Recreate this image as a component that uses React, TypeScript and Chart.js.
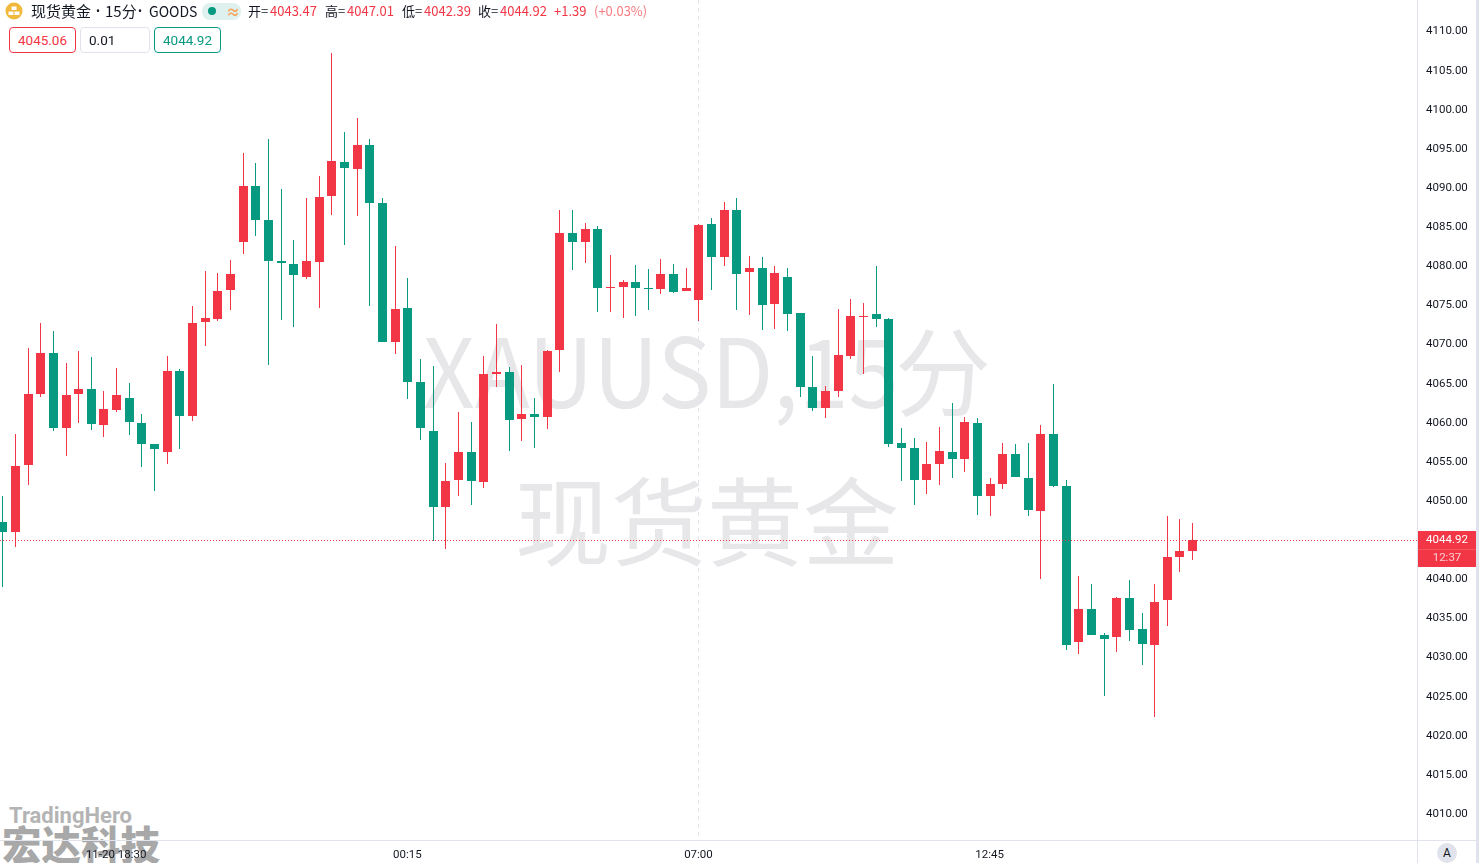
import React, { useEffect, useRef } from "react";
import { Chart, registerables } from "chart.js";

Chart.register(...registerables);

const RED = "#F23645";
const GREEN = "#089981";
const LINE = "#E0E3EB";
const INK = "#131722";
const CJK = '"Noto Sans CJK SC", Roboto, sans-serif';

const openPrices = [
  4047.19, 4045.91, 4054.47, 4063.54, 4068.78, 4059.20, 4063.54, 4064.18, 4059.58, 4061.50,
  4063.03, 4059.84, 4057.15, 4056.13, 4066.48, 4060.73, 4072.74, 4073.13, 4076.83, 4082.97,
  4090.12, 4085.78, 4080.54, 4080.15, 4078.50, 4080.42, 4088.85, 4093.20, 4092.30, 4095.37,
  4087.96, 4070.19, 4074.54, 4065.08, 4058.82, 4049.11, 4052.56, 4056.13, 4052.30, 4066.10,
  4066.36, 4060.35, 4060.99, 4060.61, 4069.17, 4084.12, 4082.97, 4084.64, 4077.10, 4077.22,
  4077.86, 4077.10, 4076.97, 4078.88, 4076.71, 4075.56, 4085.27, 4081.06, 4087.06, 4079.14,
  4079.65, 4075.05, 4078.50, 4073.90, 4064.44, 4061.76, 4063.93, 4068.41, 4073.39, 4073.77,
  4073.13, 4057.29, 4056.65, 4052.56, 4054.60, 4056.14, 4055.24, 4059.84, 4050.52, 4052.05,
  4055.88, 4052.82, 4048.60, 4058.44, 4051.79, 4031.86, 4036.07, 4032.75, 4032.50, 4037.48,
  4033.52, 4031.47, 4037.22, 4042.72, 4043.47,
];
const highPrices = [
  4050.51, 4058.43, 4069.42, 4072.61, 4071.59, 4067.50, 4069.04, 4068.27, 4063.92, 4066.86,
  4064.95, 4060.98, 4057.15, 4068.40, 4066.74, 4074.79, 4079.26, 4079.00, 4080.67, 4094.34,
  4093.06, 4096.13, 4089.74, 4083.22, 4088.60, 4091.41, 4107.13, 4097.03, 4098.82, 4096.14,
  4088.60, 4082.46, 4078.37, 4068.02, 4067.13, 4054.73, 4061.25, 4059.97, 4068.40, 4072.49,
  4067.00, 4067.25, 4063.04, 4069.17, 4087.06, 4087.06, 4085.40, 4085.02, 4081.31, 4078.12,
  4080.03, 4079.52, 4080.80, 4080.16, 4079.65, 4085.27, 4086.04, 4088.09, 4088.60, 4081.19,
  4081.06, 4079.91, 4079.65, 4073.90, 4068.41, 4064.57, 4074.41, 4075.69, 4075.18, 4079.91,
  4073.26, 4059.21, 4057.93, 4057.42, 4059.33, 4062.40, 4060.61, 4060.48, 4052.82, 4057.29,
  4057.16, 4057.29, 4059.59, 4064.83, 4052.56, 4040.29, 4039.27, 4033.01, 4037.61, 4039.78,
  4035.56, 4039.27, 4047.96, 4047.58, 4047.01,
];
const lowPrices = [
  4038.88, 4043.99, 4051.91, 4063.16, 4058.81, 4055.62, 4059.84, 4058.94, 4058.05, 4061.24,
  4058.30, 4054.21, 4051.14, 4054.59, 4056.51, 4060.09, 4069.68, 4072.87, 4074.28, 4081.43,
  4083.73, 4067.25, 4073.00, 4072.10, 4078.24, 4074.54, 4086.42, 4082.59, 4086.30, 4074.79,
  4070.19, 4068.66, 4062.91, 4057.67, 4044.76, 4043.74, 4050.51, 4049.36, 4051.53, 4064.44,
  4056.26, 4057.54, 4056.65, 4059.07, 4066.36, 4079.39, 4080.29, 4074.03, 4074.03, 4073.26,
  4073.52, 4074.28, 4076.33, 4076.46, 4076.71, 4072.88, 4076.84, 4079.91, 4074.28, 4073.64,
  4071.73, 4071.86, 4071.60, 4063.17, 4061.38, 4060.48, 4063.17, 4068.02, 4066.10, 4072.11,
  4056.78, 4052.43, 4049.36, 4050.77, 4051.92, 4052.82, 4053.58, 4048.09, 4047.96, 4051.41,
  4052.94, 4047.96, 4039.91, 4051.67, 4030.83, 4030.32, 4032.75, 4024.96, 4030.58, 4031.98,
  4028.92, 4022.27, 4033.90, 4040.80, 4042.39,
];
const closePrices = [
  4045.91, 4054.34, 4063.54, 4068.78, 4059.20, 4063.41, 4064.18, 4059.71, 4061.62, 4063.41,
  4059.96, 4057.15, 4056.51, 4066.48, 4060.73, 4072.61, 4073.25, 4076.70, 4078.88, 4090.12,
  4085.78, 4080.54, 4080.28, 4078.75, 4080.54, 4088.72, 4093.32, 4092.43, 4095.37, 4087.96,
  4070.19, 4074.41, 4065.08, 4059.20, 4049.11, 4052.43, 4056.13, 4052.43, 4066.10, 4066.36,
  4060.22, 4060.99, 4060.61, 4069.04, 4084.12, 4082.97, 4084.63, 4077.10, 4077.22, 4077.86,
  4077.10, 4076.97, 4078.88, 4076.58, 4077.10, 4085.15, 4081.06, 4087.06, 4078.88, 4079.65,
  4074.92, 4079.01, 4073.77, 4064.44, 4061.76, 4063.93, 4068.53, 4073.52, 4073.52, 4073.13,
  4057.16, 4056.65, 4052.56, 4054.60, 4056.27, 4055.24, 4059.97, 4050.52, 4052.05, 4055.88,
  4052.94, 4048.73, 4058.44, 4051.79, 4031.47, 4036.07, 4032.75, 4032.24, 4037.48, 4033.39,
  4031.60, 4036.97, 4042.72, 4043.49, 4044.92,
];

const priceTicks = [
  4010, 4015, 4020, 4025, 4030, 4035, 4040, 4050, 4055, 4060, 4065, 4070, 4075, 4080, 4085,
  4090, 4095, 4100, 4105, 4110,
];
const timeTickIndex = [9, 32, 55, 78];
const timeTickLabels = ["11-20 18:30", "00:15", "07:00", "12:45"];
const lastPrice = 4044.92;
const countdown = "12:37";
const crosshairIndex = 55;

const isUp = (i: number) => closePrices[i] >= openPrices[i];
const candleColors = openPrices.map((_, i) => (isUp(i) ? RED : GREEN));

const pixelSnap = {
  id: "pixelSnap",
  afterDatasetsUpdate(chart: any) {
    chart.data.datasets.forEach((_: any, d: number) => {
      chart.getDatasetMeta(d).data.forEach((el: any) => {
        el.x = Math.round(el.x) + 0.5;
        const top = Math.round(Math.min(el.y, el.base));
        const bottom = Math.round(Math.max(el.y, el.base));
        el.y = top;
        el.base = Math.max(bottom, top + 1);
      });
    });
  },
};

const chrome = {
  id: "chrome",
  beforeDatasetsDraw(chart: any) {
    const { ctx, scales } = chart;
    const x = Math.round(scales.x.getPixelForValue(crosshairIndex)) + 0.5;
    ctx.save();
    ctx.strokeStyle = "#E4E5EE";
    ctx.lineWidth = 1;
    ctx.setLineDash([4, 4]);
    ctx.beginPath();
    ctx.moveTo(x, 0);
    ctx.lineTo(x, chart.chartArea.bottom);
    ctx.stroke();
    ctx.restore();
  },
  afterDatasetsDraw(chart: any) {
    const { ctx, scales, chartArea, width, height } = chart;
    const row = Math.round(scales.y.getPixelForValue(lastPrice));
    const y = row + 0.5;
    ctx.save();
    ctx.strokeStyle = RED;
    ctx.lineWidth = 1;
    ctx.setLineDash([1, 2]);
    ctx.beginPath();
    ctx.moveTo(0, y);
    ctx.lineTo(chartArea.right, y);
    ctx.stroke();
    ctx.setLineDash([]);
    ctx.strokeStyle = LINE;
    ctx.beginPath();
    ctx.moveTo(chartArea.right + 0.5, 0);
    ctx.lineTo(chartArea.right + 0.5, height);
    ctx.moveTo(0, chartArea.bottom + 0.5);
    ctx.lineTo(width - 3, chartArea.bottom + 0.5);
    ctx.stroke();
    ctx.fillStyle = LINE;
    ctx.fillRect(width - 3, 0, 3, height);
    const left = chartArea.right + 1;
    const tagW = width - 3 - left;
    ctx.fillStyle = RED;
    ctx.fillRect(left, row - 9, tagW, 36);
    ctx.fillStyle = "rgba(255,255,255,0.15)";
    ctx.fillRect(left, row + 9, tagW, 1);
    ctx.textAlign = "center";
    ctx.textBaseline = "middle";
    ctx.font = "11.5px Roboto";
    ctx.fillStyle = "#FFFFFF";
    ctx.fillText(lastPrice.toFixed(2), left + tagW / 2, row);
    ctx.fillStyle = "rgba(255,255,255,0.75)";
    ctx.fillText(countdown, left + tagW / 2, row + 18);
    ctx.restore();
  },
};

const abs = (style: React.CSSProperties): React.CSSProperties => ({
  position: "absolute",
  whiteSpace: "nowrap",
  ...style,
});

function HeaderText({ x, color, text, size, font }: { x: number; color: string; text: string; size?: number; font?: string }) {
  return (
    <span style={abs({ left: x, top: 2, fontSize: size ?? 13, lineHeight: "18px", color, fontFamily: font ?? CJK })}>{text}</span>
  );
}

function Box({ x, w, color, border, text, align }: any) {
  return (
    <div
      style={abs({
        left: x,
        top: 27,
        width: w,
        height: 26,
        boxSizing: "border-box",
        border: `1px solid ${border}`,
        borderRadius: 4,
        color,
        fontSize: 13.5,
        lineHeight: "25px",
        textAlign: align,
        paddingLeft: align === "left" ? 8 : 0,
        fontFamily: "Roboto, sans-serif",
        background: "#fff",
      })}
    >
      {text}
    </div>
  );
}

export default function App() {
  const ref = useRef<HTMLCanvasElement | null>(null);

  useEffect(() => {
    const chart = new Chart(ref.current as HTMLCanvasElement, {
      type: "bar",
      data: {
        datasets: [
          {
            label: "wick",
            data: openPrices.map((_, i) => ({ x: i, y: [lowPrices[i], highPrices[i]] })) as any,
            backgroundColor: candleColors,
            barThickness: 1,
            borderWidth: 0,
            inflateAmount: 0,
            grouped: false,
          } as any,
          {
            label: "body",
            data: openPrices.map((o, i) => ({ x: i, y: [o, closePrices[i]] })) as any,
            backgroundColor: candleColors,
            barThickness: 9,
            borderWidth: 0,
            inflateAmount: 0,
            grouped: false,
          } as any,
        ],
      },
      options: {
        responsive: false,
        animation: false,
        devicePixelRatio: 1,
        layout: { padding: 0 },
        plugins: { legend: { display: false }, tooltip: { enabled: false } },
        scales: {
          x: {
            type: "linear",
            min: -0.17458,
            max: 111.7616,
            offset: false,
            grid: { display: false, drawTicks: false },
            border: { display: false },
            afterBuildTicks: (s: any) => {
              s.ticks = timeTickIndex.map((value) => ({ value }));
            },
            afterFit: (s: any) => {
              s.height = 23;
              s.paddingLeft = 0;
              s.paddingRight = 0;
            },
            ticks: {
              autoSkip: false,
              maxRotation: 0,
              padding: 8,
              color: INK,
              font: { family: "Roboto", size: 11.5 },
              callback: (v: any) => timeTickLabels[timeTickIndex.indexOf(Number(v))] ?? "",
            },
          },
          y: {
            position: "right",
            min: 4006.55,
            max: 4113.9,
            grid: { display: false, drawTicks: false },
            border: { display: false },
            afterBuildTicks: (s: any) => {
              s.ticks = priceTicks.map((value) => ({ value }));
            },
            afterFit: (s: any) => {
              s.width = 62;
              s.paddingTop = 0;
              s.paddingBottom = 0;
            },
            ticks: {
              autoSkip: false,
              padding: 9,
              labelOffset: 1,
              color: INK,
              font: { family: "Roboto", size: 11.5 },
              callback: (v: any) => Number(v).toFixed(2),
            },
          },
        },
      } as any,
      plugins: [pixelSnap, chrome],
    });
    return () => chart.destroy();
  }, []);

  return (
    <div style={abs({ position: "fixed", left: 0, top: 0, width: 1479, height: 863, overflow: "hidden", background: "#fff" })}>
      <div
        style={abs({
          left: 423,
          top: 302,
          fontSize: 96,
          lineHeight: "130px",
          color: "#E7E7E9",
          fontFamily: CJK,
          transform: "scaleX(0.94)",
          transformOrigin: "0 0",
        })}
      >
        XAUUSD,15
      </div>
      <div style={abs({ left: 895, top: 302, fontSize: 96, lineHeight: "130px", color: "#E7E7E9", fontFamily: CJK })}>分</div>
      <div style={abs({ left: 515, top: 452, fontSize: 96, lineHeight: "130px", color: "#E7E7E9", fontFamily: CJK })}>
        现货黄金
      </div>
      <div style={abs({ left: 9, top: 804, fontSize: 22, fontWeight: 700, lineHeight: "24px", color: "#B4B4B4", fontFamily: "Roboto, sans-serif" })}>
        TradingHero
      </div>
      <div style={abs({ left: 2, top: 819, fontSize: 39.5, fontWeight: 900, lineHeight: "48px", color: "#A8A8A8", fontFamily: CJK })}>
        宏达科技
      </div>
      <canvas ref={ref} width={1479} height={863} style={abs({ left: 0, top: 0, display: "block" })} />

      <svg style={abs({ left: 5, top: 2 })} width={18} height={18} viewBox="0 0 18 18">
        <circle cx={9} cy={9} r={8.5} fill="#F0B93C" />
        <rect x={6.5} y={4.5} width={5} height={3.5} fill="#fff" />
        <rect x={3.5} y={9.5} width={5} height={3.5} fill="#fff" />
        <rect x={9.5} y={9.5} width={5} height={3.5} fill="#fff" />
      </svg>
      <HeaderText x={31} color={INK} text="现货黄金" size={15} />
      <HeaderText x={96} color={INK} text="•" size={12} font="Roboto" />
      <HeaderText x={105} color={INK} text="15分" size={15} />
      <HeaderText x={138} color={INK} text="•" size={12} font="Roboto" />
      <HeaderText x={149} color={INK} text="GOODS" size={14} />
      <div style={abs({ left: 202, top: 3, width: 39, height: 17, borderRadius: 8, background: "#DFF1EE" })} />
      <div style={abs({ left: 208, top: 7, width: 8, height: 8, borderRadius: 4, background: GREEN })} />
      <span style={abs({ left: 226, top: 2, fontSize: 14, fontWeight: 700, lineHeight: "18px", color: "#F7A35C", fontFamily: CJK })}>≈</span>
      <HeaderText x={248} color={INK} text="开=" />
      <HeaderText x={270} color={RED} text="4043.47" />
      <HeaderText x={325} color={INK} text="高=" />
      <HeaderText x={347} color={RED} text="4047.01" />
      <HeaderText x={402} color={INK} text="低=" />
      <HeaderText x={424} color={RED} text="4042.39" />
      <HeaderText x={478} color={INK} text="收=" />
      <HeaderText x={500} color={RED} text="4044.92" />
      <HeaderText x={554} color={RED} text="+1.39" />
      <HeaderText x={594} color="#F77C80" text="(+0.03%)" />
      <Box x={9} w={67} color={RED} border={RED} text="4045.06" align="center" />
      <Box x={80} w={70} color={INK} border={LINE} text="0.01" align="left" />
      <Box x={154} w={67} color={GREEN} border={GREEN} text="4044.92" align="center" />
      <div
        style={abs({
          left: 1437,
          top: 843,
          width: 20,
          height: 20,
          borderRadius: 10,
          background: LINE,
          color: INK,
          fontSize: 12,
          lineHeight: "20px",
          textAlign: "center",
          fontFamily: "Roboto, sans-serif",
        })}
      >
        A
      </div>
    </div>
  );
}
